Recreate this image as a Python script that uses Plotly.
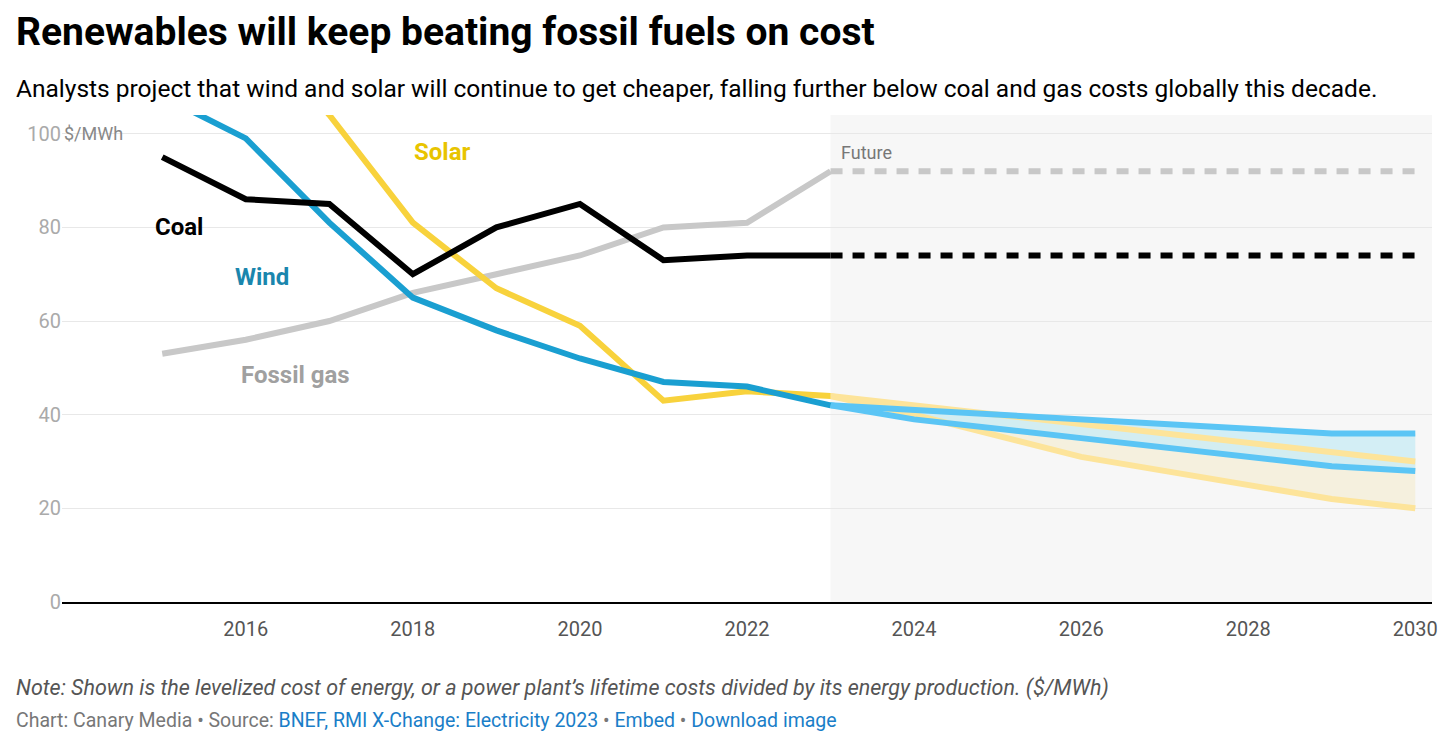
import plotly.graph_objects as go

years = [2015, 2016, 2017, 2018, 2019, 2020, 2021, 2022, 2023]
coal = [95, 86, 85, 70, 80, 85, 73, 74, 74]
gas = [53, 56, 60, 66, 70, 74, 80, 81, 92]
wind = [108, 99, 81, 65, 58, 52, 47, 46, 42]
solar = [135, 125, 104, 81, 67, 59, 43, 45, 44]

fut_years = [2023, 2030]
coal_fut = [74, 74]
gas_fut = [92, 92]

proj_years = [2023, 2024, 2026, 2029, 2030]
wind_hi = [42, 41, 39, 36, 36]
wind_lo = [42, 39, 35, 29, 28]
solar_hi = [44, 42, 38, 32, 30]
solar_lo = [44, 40, 31, 22, 20]

BLUE = "#1a9fd1"
BLUE_F = "#5bc5f5"
YEL = "#f8d23c"
YEL_F = "#fde49a"
font = "Roboto"
W = 6

fig = go.Figure()
fig.add_vrect(x0=2023, x1=2030.2, fillcolor="#f7f7f7", line_width=0, layer="below")

# band fills first
fig.add_trace(go.Scatter(x=proj_years, y=solar_hi, mode="lines", line=dict(width=0)))
fig.add_trace(go.Scatter(x=proj_years, y=solar_lo, mode="lines", line=dict(width=0),
                         fill="tonexty", fillcolor="rgba(245,240,222,1)"))
fig.add_trace(go.Scatter(x=proj_years, y=wind_hi, mode="lines", line=dict(width=0)))
fig.add_trace(go.Scatter(x=proj_years, y=wind_lo, mode="lines", line=dict(width=0),
                         fill="tonexty", fillcolor="rgba(205,236,244,0.85)"))
# band lines
for ys, c in [(solar_hi, YEL_F), (solar_lo, YEL_F), (wind_hi, BLUE_F), (wind_lo, BLUE_F)]:
    fig.add_trace(go.Scatter(x=proj_years, y=ys, mode="lines", line=dict(color=c, width=W)))

fig.add_trace(go.Scatter(x=fut_years, y=gas_fut, mode="lines", line=dict(color="#c8c8c8", width=W, dash="12px,10px")))
fig.add_trace(go.Scatter(x=fut_years, y=coal_fut, mode="lines", line=dict(color="#000", width=W, dash="12px,10px")))
fig.add_trace(go.Scatter(x=years, y=gas, mode="lines", line=dict(color="#c8c8c8", width=W)))
fig.add_trace(go.Scatter(x=years, y=solar, mode="lines", line=dict(color=YEL, width=W)))
fig.add_trace(go.Scatter(x=years, y=wind, mode="lines", line=dict(color=BLUE, width=W)))
fig.add_trace(go.Scatter(x=years, y=coal, mode="lines", line=dict(color="#000", width=W)))

labels = [("Solar", 2018.35, 96, "#e8c400"), ("Coal", 2015.2, 80, "#000"),
          ("Wind", 2016.2, 69.5, "#1a86ad"), ("Fossil gas", 2016.6, 48.5, "#a0a0a0")]
for t, x, y, c in labels:
    fig.add_annotation(x=x, y=y, text=f"<b>{t}</b>", showarrow=False, xanchor="center",
                       font=dict(family=font, size=24, color=c))
fig.add_annotation(x=2023.1, y=96, text="Future", showarrow=False, xanchor="left",
                   font=dict(family=font, size=18, color="#777"))
fig.add_annotation(xref="paper", x=0.0, y=100, text="$/MWh", showarrow=False, xanchor="left",
                   font=dict(family=font, size=18, color="#888"))

fig.add_annotation(xref="paper", yref="paper", x=-0.035, y=1.17, text="<b>Renewables will keep beating fossil fuels on cost</b>",
                   showarrow=False, xanchor="left", yanchor="middle", font=dict(family=font, size=39, color="#000"))
fig.add_annotation(xref="paper", yref="paper", x=-0.035, y=1.055,
                   text="Analysts project that wind and solar will continue to get cheaper, falling further below coal and gas costs globally this decade.",
                   showarrow=False, xanchor="left", yanchor="middle", font=dict(family=font, size=24.5, color="#000"))
fig.add_annotation(xref="paper", yref="paper", x=-0.035, y=-0.177,
                   text="<i>Note: Shown is the levelized cost of energy, or a power plant’s lifetime costs divided by its energy production. ($/MWh)</i>",
                   showarrow=False, xanchor="left", yanchor="middle", font=dict(family=font, size=21.5, color="#555"))
fig.add_annotation(xref="paper", yref="paper", x=-0.035, y=-0.243,
                   text="Chart: Canary Media • Source: <span style='color:#1a7ec8'>BNEF, RMI X-Change: Electricity 2023</span> • <span style='color:#1a7ec8'>Embed</span> • <span style='color:#1a7ec8'>Download image</span>",
                   showarrow=False, xanchor="left", yanchor="middle", font=dict(family=font, size=19.5, color="#777"))

fig.update_layout(
    width=1456, height=742, showlegend=False, plot_bgcolor="white", paper_bgcolor="white",
    margin=dict(l=54, r=32, t=107, b=148),
    xaxis=dict(range=[2013.8, 2030.2], tickvals=list(range(2016, 2031, 2)), showgrid=False,
               showline=True, linecolor="#000", linewidth=2, ticks="outside", ticklen=8, tickcolor="white",
               zeroline=False, tickfont=dict(family=font, size=20, color="#555")),
    yaxis=dict(range=[0, 104], tickvals=[0, 20, 40, 60, 80, 100],
               gridcolor="#e8e8e8", zeroline=False, tickfont=dict(family=font, size=20, color="#aaa")),
)
fig.write_html("out.html")
